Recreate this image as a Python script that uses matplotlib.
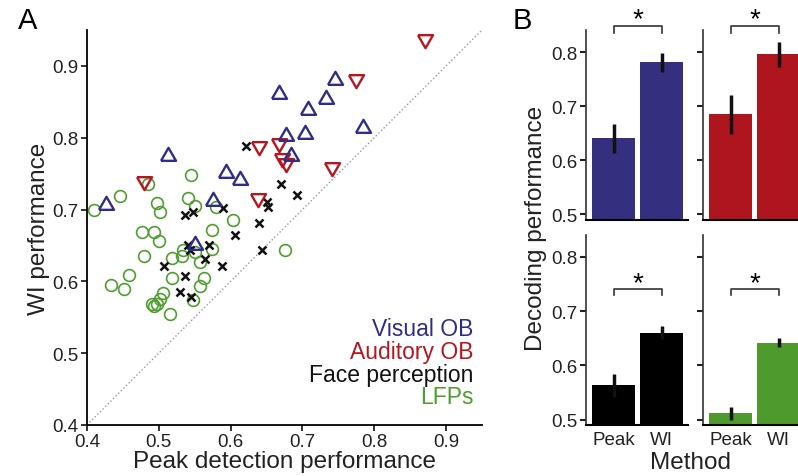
import numpy as np
import matplotlib.pyplot as plt

plt.rcParams['font.family'] = ['Liberation Sans', 'DejaVu Sans']

# ---- scatter data: (peak detection, WI) per group ----
visual_x = [0.426, 0.513, 0.551, 0.575, 0.594, 0.6125, 0.668, 0.677, 0.684, 0.704, 0.708, 0.733, 0.745, 0.784]
visual_y = [0.707, 0.775, 0.650, 0.712, 0.751, 0.741, 0.861, 0.802, 0.775, 0.805, 0.839, 0.854, 0.881, 0.814]

auditory_x = [0.479, 0.638, 0.640, 0.667, 0.672, 0.677, 0.741, 0.774, 0.870]
auditory_y = [0.740, 0.716, 0.789, 0.793, 0.772, 0.765, 0.759, 0.882, 0.938]

face_x = [0.537, 0.547, 0.590, 0.621, 0.639, 0.650, 0.652, 0.670, 0.693, 0.606,
          0.643, 0.540, 0.543, 0.570, 0.565, 0.507, 0.588, 0.537, 0.530, 0.545]
face_y = [0.692, 0.696, 0.702, 0.788, 0.681, 0.711, 0.703, 0.736, 0.720, 0.664,
          0.644, 0.650, 0.643, 0.650, 0.631, 0.621, 0.621, 0.607, 0.585, 0.578]

lfp_x = [0.410, 0.446, 0.485, 0.545, 0.497, 0.502, 0.541, 0.551, 0.580, 0.603,
         0.574, 0.477, 0.494, 0.500, 0.676, 0.574, 0.533, 0.550, 0.532, 0.518,
         0.558, 0.479, 0.459, 0.434, 0.451, 0.518, 0.5625, 0.558, 0.547, 0.506,
         0.501, 0.490, 0.497, 0.494, 0.515]
lfp_y = [0.699, 0.719, 0.736, 0.748, 0.709, 0.697, 0.716, 0.705, 0.703, 0.686,
         0.672, 0.669, 0.669, 0.656, 0.644, 0.645, 0.644, 0.641, 0.635, 0.632,
         0.627, 0.635, 0.609, 0.595, 0.590, 0.605, 0.604, 0.593, 0.574, 0.584,
         0.575, 0.569, 0.569, 0.566, 0.555]

# ---- bar data ----
methods = ['Peak', 'WI']
bar_vals = {'visual': [0.642, 0.781], 'auditory': [0.686, 0.796],
            'face': [0.564, 0.660], 'lfp': [0.512, 0.642]}
bar_lo = {'visual': [0.614, 0.764], 'auditory': [0.649, 0.772],
          'face': [0.542, 0.649], 'lfp': [0.500, 0.633]}
bar_hi = {'visual': [0.667, 0.799], 'auditory': [0.720, 0.819],
          'face': [0.584, 0.673], 'lfp': [0.523, 0.651]}

c_blue = '#2f2d86'
c_red = '#b5161f'
c_black = '#111111'
c_green = '#4f9e2f'
bar_colors = {'visual': '#34307f', 'auditory': '#ae151e', 'face': '#000000', 'lfp': '#4f9a2d'}

fig = plt.figure(figsize=(7.98, 4.77), dpi=100)

# ---- panel A ----
ax = fig.add_axes([0.109, 0.107, 0.495, 0.828])
tri_up = [(-1, -0.577), (1, -0.577), (0, 1.155), (-1, -0.577)]
tri_dn = [(-1, 0.577), (1, 0.577), (0, -1.155), (-1, 0.577)]
ax.plot([0.4, 0.95], [0.4, 0.95], ':', color='#999999', lw=1)
ax.plot(lfp_x, lfp_y, 'o', ms=8.5, mfc='none', mec=c_green, mew=1.2, ls='none')
ax.plot(face_x, face_y, 'x', ms=5.5, mec=c_black, mew=1.8, ls='none')
ax.plot(auditory_x, auditory_y, marker=tri_dn, ms=12.5, mfc='none', mec=c_red, mew=1.7, ls='none')
ax.plot(visual_x, visual_y, marker=tri_up, ms=12.5, mfc='none', mec=c_blue, mew=1.7, ls='none')
ax.set_xlim(0.4, 0.95)
ax.set_ylim(0.4, 0.95)
ax.set_xticks([0.4, 0.5, 0.6, 0.7, 0.8, 0.9])
ax.set_yticks([0.4, 0.5, 0.6, 0.7, 0.8, 0.9])
ax.set_xticklabels(['0.4', '0.5', '0.6', '0.7', '0.8', '0.9'])
ax.set_yticklabels(['0.4', '0.5', '0.6', '0.7', '0.8', '0.9'])
for s in ['top', 'right']:
    ax.spines[s].set_visible(False)
for s in ['left', 'bottom']:
    ax.spines[s].set_linewidth(1.3)
ax.tick_params(labelsize=13.5, width=1.3, length=4, pad=2, colors='#222222')
ax.set_xlabel('Peak detection performance', fontsize=17.5, labelpad=0, color='#222222')
ax.set_ylabel('WI performance', fontsize=17.5, labelpad=2, color='#222222')
legend_txt = [('Visual OB', c_blue), ('Auditory OB', c_red),
              ('Face perception', c_black), ('LFPs', c_green)]
for i, (t, c) in enumerate(legend_txt):
    ax.text(0.978, 0.245 - i * 0.058, t, color=c, fontsize=16.5, ha='right', va='center',
            transform=ax.transAxes)

fig.text(0.034, 0.955, 'A', fontsize=21, ha='center', va='center')
fig.text(0.655, 0.955, 'B', fontsize=21, ha='center', va='center')

# ---- panel B ----
pos = {'visual': [0.734, 0.537, 0.128, 0.397], 'auditory': [0.881, 0.537, 0.128, 0.397],
       'face': [0.734, 0.107, 0.128, 0.398], 'lfp': [0.881, 0.107, 0.128, 0.398]}
for key in ['visual', 'auditory', 'face', 'lfp']:
    b = fig.add_axes(pos[key])
    x = np.arange(2)
    vals = np.array(bar_vals[key])
    err = [vals - np.array(bar_lo[key]), np.array(bar_hi[key]) - vals]
    b.bar(x, vals, 0.9, color=bar_colors[key])
    b.errorbar(x, vals, yerr=err, fmt='none', ecolor='#111111', elinewidth=2.5, capsize=0)
    b.set_xlim(-0.58, 1.55)
    b.set_ylim(0.49, 0.84)
    b.set_yticks([0.5, 0.6, 0.7, 0.8])
    for s in ['top', 'right']:
        b.spines[s].set_visible(False)
    b.spines['left'].set_color('#333333')
    b.spines['left'].set_linewidth(1.2)
    b.spines['bottom'].set_linewidth(1.5)
    b.tick_params(axis='y', labelsize=13.5, width=1.5, length=4, pad=2, colors='#222222')
    b.tick_params(axis='x', length=0, labelsize=13.5, pad=4, colors='#222222')
    if key in ['visual', 'face']:
        b.set_yticklabels(['0.5', '0.6', '0.7', '0.8'])
    else:
        b.set_yticklabels([])
    if key in ['face', 'lfp']:
        b.set_xticks(x)
        b.set_xticklabels(methods)
        yb, yt, ys = 0.740, 0.729, 0.751
    else:
        b.set_xticks([])
        yb, yt, ys = 0.848, 0.836, 0.861
    b.plot([0, 0, 1, 1], [yt, yb, yb, yt], color='#333333', lw=1.2, clip_on=False)
    b.text(0.5, ys, '*', fontsize=20, ha='center', va='center', clip_on=False)

fig.text(0.672, 0.522, 'Decoding performance', fontsize=17.5, rotation=90,
         ha='center', va='center', color='#222222')
fig.text(0.865, 0.03, 'Method', fontsize=17.5, ha='center', va='center', color='#222222')

fig.savefig('out.png', dpi=100)
